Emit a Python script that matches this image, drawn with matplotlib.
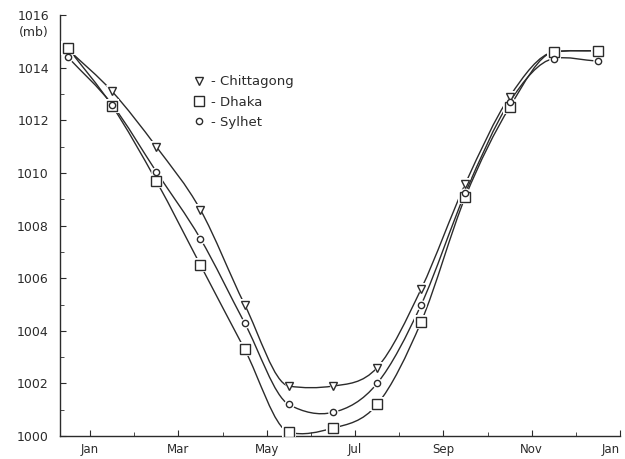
import matplotlib
matplotlib.use("Agg")
from matplotlib import pyplot as plt
from matplotlib.path import Path
from matplotlib.patches import PathPatch

plt.rcParams['font.family'] = ['DejaVu Sans']

# mid-month positions (Jan tick = 0), Dec repeated at both ends
months = [-0.5, 0.5, 1.5, 2.5, 3.5, 4.5, 5.5, 6.5, 7.5, 8.5, 9.5, 10.5, 11.5]
chittagong = [1014.7, 1013.1, 1011.0, 1008.6, 1005.0, 1001.9, 1001.9,
              1002.6, 1005.6, 1009.6, 1012.9, 1014.6, 1014.65]
dhaka = [1014.75, 1012.55, 1009.7, 1006.5, 1003.3, 1000.15, 1000.3,
         1001.2, 1004.35, 1009.1, 1012.5, 1014.6, 1014.65]
sylhet = [1014.4, 1012.6, 1010.05, 1007.5, 1004.3, 1001.2, 1000.9,
          1002.0, 1005.0, 1009.25, 1012.7, 1014.35, 1014.25]

tick_pos = [0, 2, 4, 6, 8, 10, 12]
tick_labels = ["Jan", "Mar", "May", "Jul", "Sep", "Nov", "Jan"]

ink = "#2b2b2b"


def smooth_path(xs, ys):
    # Catmull-Rom tangents, clamped so the curve doesn't overshoot much
    n = len(xs)
    d = [(ys[i + 1] - ys[i]) / (xs[i + 1] - xs[i]) for i in range(n - 1)]
    m = [d[0]] + [0.0] * (n - 2) + [d[-1]]
    for i in range(1, n - 1):
        cr = (ys[i + 1] - ys[i - 1]) / (xs[i + 1] - xs[i - 1])
        bound = max(3 * min(abs(d[i - 1]), abs(d[i])), 0.25)
        m[i] = max(-bound, min(bound, cr))
    verts = [(xs[0], ys[0])]
    codes = [Path.MOVETO]
    for i in range(n - 1):
        h = xs[i + 1] - xs[i]
        verts += [(xs[i] + h / 3, ys[i] + m[i] * h / 3),
                  (xs[i + 1] - h / 3, ys[i + 1] - m[i + 1] * h / 3),
                  (xs[i + 1], ys[i + 1])]
        codes += [Path.CURVE4] * 3
    return Path(verts, codes)


fig = plt.figure(figsize=(6.25, 4.59), dpi=100)
ax = fig.add_axes([0.096, 0.05, 0.896, 0.917])

series = [
    (chittagong, "v", 6, "- Chittagong"),
    (dhaka, "s", 7, "- Dhaka"),
    (sylhet, "o", 4.5, "- Sylhet"),
]

for ys, mk, ms, lab in series:
    ax.add_patch(PathPatch(smooth_path(months, ys), fill=False,
                           edgecolor=ink, linewidth=1.0, zorder=2))
    ax.plot(months, ys, linestyle="none", marker=mk, markersize=ms + 3,
            color="white", markeredgewidth=0, zorder=3)
    ax.plot(months, ys, linestyle="none", marker=mk, markersize=ms,
            markerfacecolor="white", markeredgecolor=ink,
            markeredgewidth=1.0, zorder=4, label=lab)

ax.set_xlim(-0.68, 12.0)
ax.set_ylim(1000, 1016)
ax.set_xticks(tick_pos)
ax.set_xticklabels(tick_labels)
ax.set_xticks(range(0, 13), minor=True)
ax.set_yticks(range(1000, 1017, 2))
ax.set_yticks(range(1000, 1017, 1), minor=True)
ax.get_xticklabels()[-1].set_horizontalalignment("right")

for s in ["top", "right"]:
    ax.spines[s].set_visible(False)
for s in ["left", "bottom"]:
    ax.spines[s].set_color(ink)
    ax.spines[s].set_linewidth(1.0)

ax.tick_params(axis="both", which="both", direction="in", colors=ink,
               labelcolor=ink)
ax.tick_params(axis="y", which="major", length=4, pad=8, labelsize=9)
ax.tick_params(axis="y", which="minor", length=3)
ax.tick_params(axis="x", which="major", length=4, pad=5, labelsize=8.5)
ax.tick_params(axis="x", which="minor", length=3)

ax.annotate("(mb)", xy=(0, 1015.35), xycoords=("axes fraction", "data"),
            xytext=(-8, 0), textcoords="offset points", ha="right",
            va="center", fontsize=9, color=ink)

ax.legend(loc="upper left", bbox_to_anchor=(0.218, 0.885), frameon=False,
          handlelength=0.8, handletextpad=0.5, labelspacing=0.55,
          fontsize=9.5, labelcolor=ink)

fig.savefig("out.png", dpi=100)
